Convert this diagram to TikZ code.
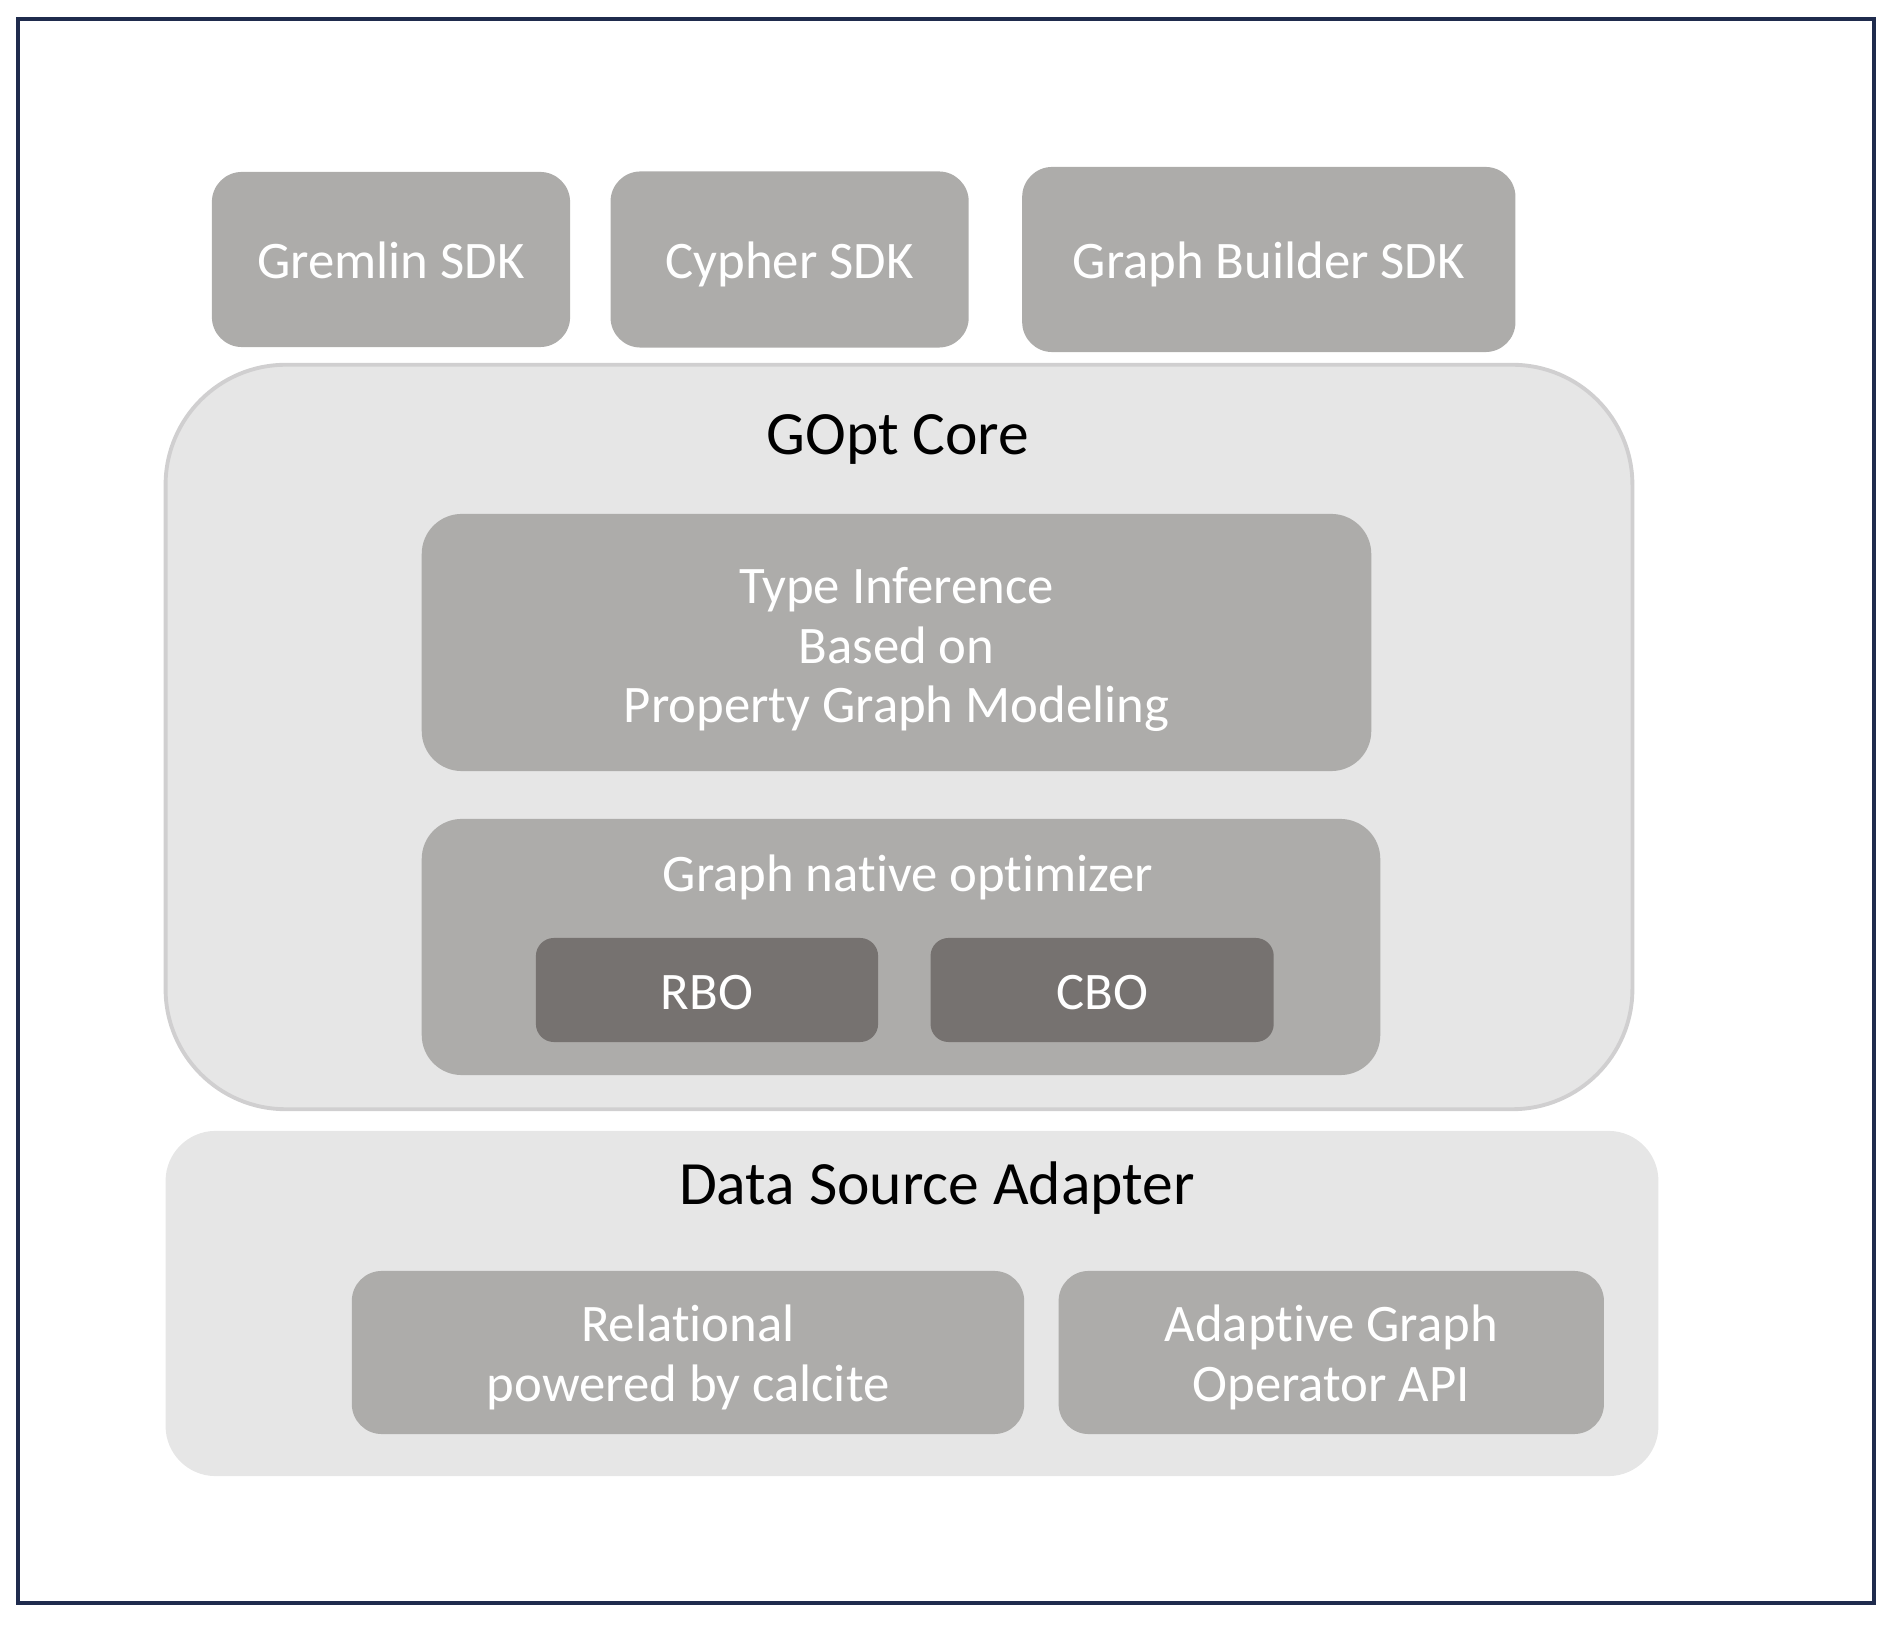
\documentclass[tikz,border=0pt]{standalone}
\usepackage{xcolor}
\usepackage{fontspec}
\setmainfont[Ligatures={NoCommon}]{Carlito}
\usepackage{tikz}
\usetikzlibrary{shapes,backgrounds,positioning}

\definecolor{framec}{HTML}{1F2B4D}
\definecolor{layerfill}{HTML}{E6E6E6}
\definecolor{layerline}{HTML}{D0CFD0}
\definecolor{modfill}{HTML}{ADACAA}
\definecolor{subfill}{HTML}{767270}

\begin{document}
\begin{tikzpicture}[x=0.01cm, y=-0.01cm, node distance = 0.4cm, auto,
  modtext/.style={text=white, align=center, font=\fontsize{15}{17}\selectfont},
  oneline/.style={text height=11pt, text depth=0pt},
  module/.style={fill=modfill, rounded corners=0.3cm, inner sep=0pt, modtext, oneline},
  layerbox/.style={fill=layerfill, rounded corners=1.2cm, inner sep=0pt},
  layertitle/.style={font=\fontsize{17.5}{21}\selectfont, text height=11.3pt, text depth=0pt}]
\useasboundingbox (0,0) rectangle (1896,1628);
\draw [framec, line width=1.1pt] (18,19) rectangle (1874,1603);

\node [module, minimum width=3.58cm, minimum height=1.75cm] (gremlin) at (391,259.5) {Gremlin SDK};
\node [module, minimum width=3.58cm, minimum height=1.76cm, right=0.39cm of gremlin] (cypher) {Cypher SDK};
\node [module, minimum width=4.93cm, minimum height=1.85cm, right=0.52cm of cypher] (builder) {Graph Builder SDK};

\node [layerbox, draw=layerline, line width=1.1pt, minimum width=14.66cm, minimum height=7.44cm] (core) at (899,737) {};
\node [layertitle] (coretitle) at (898,435) {GOpt Core};
\node [module, rounded corners=0.4cm, minimum width=9.49cm, minimum height=2.57cm] (typeinf) at (896.5,642.5) {};
\node [modtext] (typeinftext) at (896.5,649.5) {Type Inference\\Based on\\Property Graph Modeling};
\node [module, rounded corners=0.4cm, minimum width=9.58cm, minimum height=2.56cm] (optim) at (901,947) {};
\node [modtext, text height=9.7pt, text depth=0pt] (optimtitle) at (908,874) {Graph native optimizer};
\node [module, fill=subfill, rounded corners=0.18cm, minimum width=3.42cm, minimum height=1.04cm] (rbo) at (707,990) {RBO};
\node [module, fill=subfill, rounded corners=0.18cm, minimum width=3.43cm, minimum height=1.04cm, right=0.51cm of rbo] (cbo) {CBO};

\node [layerbox, rounded corners=0.5cm, minimum width=14.92cm, minimum height=3.45cm] (adapter) at (912,1303.5) {};
\node [layertitle] (adaptertitle) at (937,1185) {Data Source Adapter};
\node [module, minimum width=6.72cm, minimum height=1.63cm] (relational) at (688,1352.5) {};
\node [modtext] (relationaltext) at (688,1357.5) {Relational\\powered by calcite};
\node [module, minimum width=5.45cm, minimum height=1.63cm, right=0.33cm of relational] (agoa) {};
\node [modtext] (agoatext) at ([yshift=-0.05cm]agoa.center) {Adaptive Graph\\Operator API};
\end{tikzpicture}
\end{document}
